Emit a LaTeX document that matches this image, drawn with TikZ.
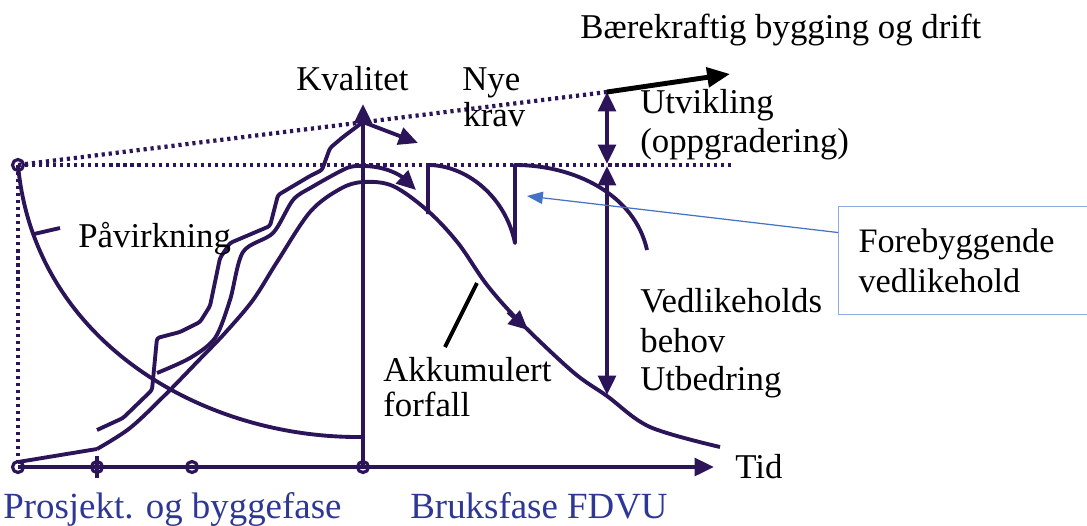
\documentclass[tikz,border=0pt]{standalone}
\usepackage{fontspec}
\setmainfont{Liberation Serif}
\usetikzlibrary{arrows.meta}
\definecolor{lilla}{HTML}{2B1458}
\definecolor{blaatekst}{HTML}{2E3794}
\definecolor{blaapil}{HTML}{4472C4}
\definecolor{blaaramme}{HTML}{8FAADC}
\tikzset{
  kurve/.style={draw=lilla, line width=2.2pt, line join=round},
  prikk/.style={draw=lilla, line width=2.4pt, dash pattern=on 1.8pt off 2.2pt},
  etikett/.style={font=\rmfamily\fontsize{19.8}{23}\selectfont, inner sep=0pt, anchor=base west},
  fase/.style={etikett, text=blaatekst, font=\rmfamily\fontsize{21}{25}\selectfont},
  punkt/.style={circle, draw=lilla, line width=1.8pt, minimum size=0.22cm, inner sep=0pt}
}
\begin{document}
\begin{tikzpicture}[>={Triangle[length=11pt, width=10pt]}, x=0.02cm, y=-0.02cm]
  \useasboundingbox (0,0) rectangle (1087,525);

  % akser
  \coordinate (O) at (18,467);
  \coordinate (tidpil) at (714,467);
  \coordinate (K0) at (363,467);
  \coordinate (Ktopp) at (363,104);
  \draw[kurve, ->] (O) -- (tidpil);
  \draw[kurve, ->] (K0) -- (Ktopp);
  \draw[kurve] (97,456) -- (97,478);

  % prikkede linjer
  \coordinate (S) at (18,165);
  \coordinate (U) at (607,92);
  \draw[prikk] (S) -- (O);
  \draw[prikk] (S) -- (732,165);
  \draw[prikk] (S) -- (U);

  % punkter
  \node[punkt] (p0) at (O) {};
  \node[punkt] (p1) at (97,467) {};
  \node[punkt] (p2) at (192,467) {};
  \node[punkt] (p3) at (K0) {};
  \node[punkt] (ps) at (S) {};

  % påvirkning
  \draw[kurve] (S) .. controls (34,340) and (200,437) .. (358,437) -- (363,437);
  \draw[kurve] (34,234) -- (60,228);

  % nederste kurve
  \draw[kurve] (18,462) -- (97,449);
  \draw[kurve] plot[smooth, tension=0.55] coordinates {(97,449) (130,428) (165,395) (200,359) (225,333) (253,300) (277,262) (310,212) (340,189) (363,182) (393,186) (428,211) (458,243) (487,285) (520,322) (573,372) (607,396) (650,427) (720,447)};
  \draw[kurve, ->] (508,312) -- (528,330);

  % midterste kurve
  \draw[kurve] plot[smooth, tension=0.5] coordinates {(157,373) (190,358) (215,338) (230,300) (243,252) (273,233) (293,200) (312,187) (347,168) (363,166)};
  \draw[kurve, ->] (363,166) .. controls (385,166) and (400,175) .. (416,190);

  % øverste kurve
  \draw[kurve, rounded corners=1.5pt] (97,430) -- (123,418) -- (152,390) -- (157,338) -- (180,332) -- (200,322) -- (210,306) -- (220,258) -- (230,243) -- (270,226) -- (278,195) -- (310,176) -- (322,170) -- (330,148) -- (343,137) -- (363,122);
  \draw[kurve, ->] (363,122) -- (418,143);

  % vedlikehold
  \draw[kurve] (428,214) -- (428,165) .. controls (465,165) and (505,195) .. (515,243) -- (515,165) .. controls (575,165) and (635,195) .. (647,250);

  % utvikling og behov
  \draw[kurve, <->] (U) -- (607,164);
  \draw[kurve, <->] (607,166) -- (607,395);
  \draw[line width=2.8pt, -{Triangle[length=13pt, width=11pt]}] (U) -- (730,74);

  % tekster
  \node[etikett] (tittel) at (580,38) {Bærekraftig bygging og drift};
  \node[etikett] (kvalitet) at (296,90) {Kvalitet};
  \node[etikett] (nye) at (462,90) {Nye};
  \node[etikett] (krav) at (463,126) {krav};
  \node[etikett] (utvikling) at (640,113) {Utvikling};
  \node[etikett] (oppgradering) at (640,152) {(oppgradering)};
  \node[etikett] (paavirkning) at (78,247) {Påvirkning};
  \node[etikett] (vedlikeholds) at (640,312) {Vedlikeholds};
  \node[etikett] (behov) at (640,352) {behov};
  \node[etikett] (utbedring) at (640,390) {Utbedring};
  \node[etikett] (akkumulert) at (383,381) {Akkumulert};
  \node[etikett] (forfall) at (383,416) {forfall};
  \node[etikett] (tid) at (735,478) {Tid};
  \node[fase] (prosjekt) at (3,518) {Prosjekt. og byggefase};
  \node[fase] (bruk) at (410,518) {Bruksfase FDVU};

  % forfall-peker
  \coordinate (akkA) at (477,283);
  \coordinate (akkB) at (445,347);
  \draw[line width=2.2pt] (akkA) -- (akkB);

  % boks
  \node[draw=blaaramme, line width=0.6pt, anchor=north west, minimum width=5.1cm, minimum height=2.16cm, text width=4.3cm, inner xsep=0.4cm, align=left, font=\rmfamily\fontsize{19.5}{22.7}\selectfont] (boks) at (838,206) {Forebyggende\\vedlikehold};
  \coordinate (vedlpunkt) at (527,196);
  \draw[blaapil, line width=0.7pt, -{Triangle[length=9pt, width=7pt]}] ([yshift=0.56cm]boks.west) -- (vedlpunkt);
\end{tikzpicture}
\end{document}
